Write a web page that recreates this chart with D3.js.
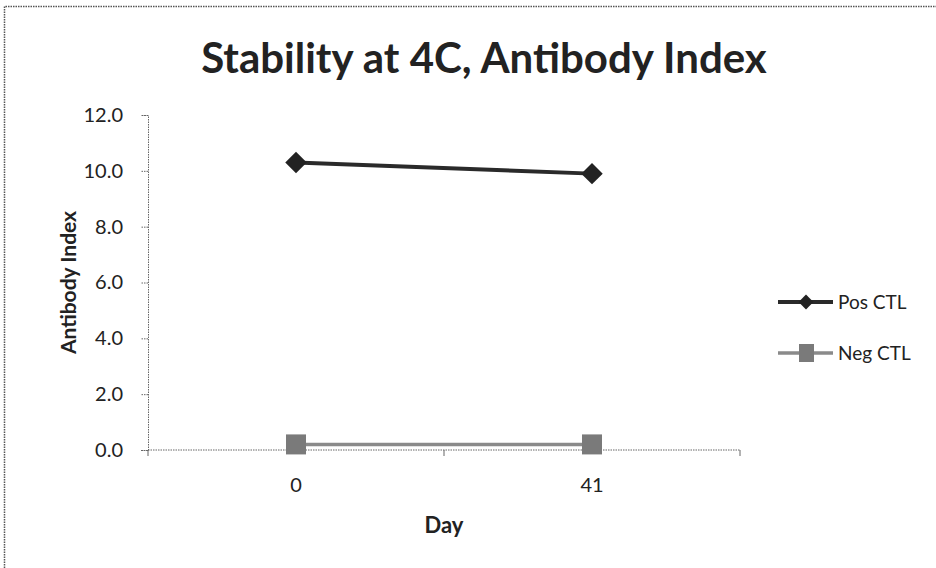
<!DOCTYPE html>
<html>
<head>
<meta charset="utf-8">
<script src="https://cdn.jsdelivr.net/npm/d3@7"></script>
<style>
  body { margin: 0; background: #fff; }
  svg { display: block; }
  text { font-family: Lato, "Open Sans", sans-serif; fill: #222; }
</style>
</head>
<body>
<div id="chart"></div>
<script>
var days = ['0', '41'];
var posCtl = [10.3, 9.9];
var negCtl = [0.2, 0.2];
var yTicks = [0, 2, 4, 6, 8, 10, 12];
var seriesNames = ['Pos CTL', 'Neg CTL'];

var width = 936, height = 568;
var plotLeft = 148, plotRight = 740, plotTop = 115, plotBottom = 450;

var svg = d3.select('#chart').append('svg')
  .attr('width', width)
  .attr('height', height);

// dotted frame of the chart area (only top and left show)
svg.append('path')
  .attr('d', 'M4.5,568 L4.5,6.5 L936,6.5')
  .attr('fill', 'none')
  .attr('stroke', '#555')
  .attr('stroke-width', 1.5)
  .attr('stroke-dasharray', '1.5,1');

var x = d3.scaleBand().domain(days).range([plotLeft, plotRight]);
var y = d3.scaleLinear().domain([0, 12]).range([plotBottom, plotTop]);

// y axis
var yAxis = svg.append('g')
  .attr('transform', 'translate(' + plotLeft + ',0)')
  .call(d3.axisLeft(y).tickValues(yTicks).tickFormat(d3.format('.1f')).tickSize(7).tickPadding(18));
yAxis.select('.domain').attr('stroke', '#666').attr('stroke-dasharray', '1.5,1');
yAxis.selectAll('.tick line').attr('stroke', '#666').attr('stroke-dasharray', '1.5,1');
yAxis.selectAll('text').style('font-size', '20px').attr('fill', '#333');

// x axis: ticks between categories
var xAxis = svg.append('g')
  .attr('transform', 'translate(0,' + plotBottom + ')');
xAxis.append('line')
  .attr('x1', plotLeft).attr('x2', plotRight)
  .attr('stroke', '#666').attr('stroke-dasharray', '1.5,1');
xAxis.selectAll('.tk')
  .data(days.concat(['end']))
  .enter().append('line')
  .attr('x1', function(d, i) { return plotLeft + i * x.bandwidth(); })
  .attr('x2', function(d, i) { return plotLeft + i * x.bandwidth(); })
  .attr('y1', 0).attr('y2', 6)
  .attr('stroke', '#666');
xAxis.selectAll('.lbl')
  .data(days)
  .enter().append('text')
  .attr('x', function(d) { return x(d) + x.bandwidth() / 2; })
  .attr('y', 42)
  .attr('text-anchor', 'middle')
  .style('font-size', '20px')
  .attr('fill', '#333')
  .text(function(d) { return d; });

// titles
svg.append('text')
  .attr('x', 484).attr('y', 73)
  .attr('text-anchor', 'middle')
  .style('font-size', '42px').style('font-weight', 'bold')
  .text('Stability at 4C, Antibody Index');

svg.append('text')
  .attr('x', 444).attr('y', 533)
  .attr('text-anchor', 'middle')
  .style('font-size', '22px').style('font-weight', 'bold')
  .text('Day');

svg.append('text')
  .attr('transform', 'translate(76,' + ((plotTop + plotBottom) / 2) + ') rotate(-90)')
  .attr('text-anchor', 'middle')
  .style('font-size', '21px').style('font-weight', 'bold')
  .text('Antibody Index');

var cx = function(d, i) { return x(days[i]) + x.bandwidth() / 2; };
var line = d3.line().x(cx).y(function(d) { return y(d); });

// Neg CTL
svg.append('path')
  .datum(negCtl)
  .attr('fill', 'none')
  .attr('stroke', '#8a8a8a')
  .attr('stroke-width', 3.5)
  .attr('d', line);
svg.selectAll('.sq')
  .data(negCtl)
  .enter().append('rect')
  .attr('x', function(d, i) { return cx(d, i) - 10; })
  .attr('y', function(d) { return y(d) - 10; })
  .attr('width', 20).attr('height', 20)
  .attr('fill', '#7a7a7a');

// Pos CTL
svg.append('path')
  .datum(posCtl)
  .attr('fill', 'none')
  .attr('stroke', '#2a2a2a')
  .attr('stroke-width', 4)
  .attr('d', line);
svg.selectAll('.dm')
  .data(posCtl)
  .enter().append('path')
  .attr('transform', function(d, i) { return 'translate(' + cx(d, i) + ',' + y(d) + ') rotate(45)'; })
  .attr('d', d3.symbol().type(d3.symbolSquare).size(230))
  .attr('fill', '#222');

// legend
var legend = svg.append('g').attr('transform', 'translate(778,302)');
seriesNames.forEach(function(name, i) {
  var g = legend.append('g').attr('transform', 'translate(0,' + (i * 51) + ')');
  g.append('line')
    .attr('x1', 0).attr('x2', 55)
    .attr('stroke', i === 0 ? '#2a2a2a' : '#8a8a8a')
    .attr('stroke-width', i === 0 ? 4 : 3.5);
  if (i === 0) {
    g.append('path')
      .attr('transform', 'translate(28,0) rotate(45)')
      .attr('d', d3.symbol().type(d3.symbolSquare).size(110))
      .attr('fill', '#222');
  } else {
    g.append('rect')
      .attr('x', 21).attr('y', -9)
      .attr('width', 15).attr('height', 18)
      .attr('fill', '#7a7a7a');
  }
  g.append('text')
    .attr('x', 60).attr('y', 7)
    .style('font-size', '19px')
    .attr('fill', '#333')
    .text(name);
});
</script>
</body>
</html>
